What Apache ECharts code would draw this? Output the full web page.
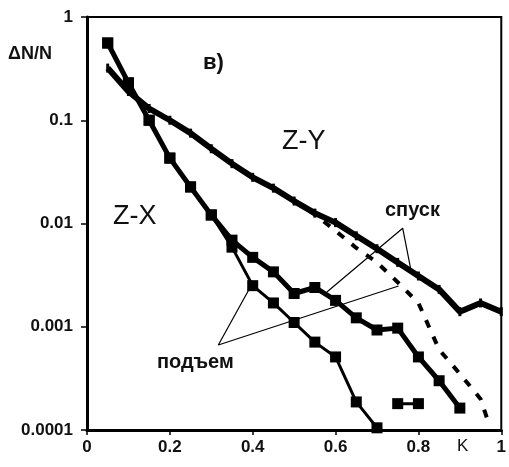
<!DOCTYPE html>
<html>
<head>
<meta charset="utf-8">
<script src="https://cdn.jsdelivr.net/npm/echarts@6/dist/echarts.min.js"></script>
<style>
html, body { margin: 0; padding: 0; background: #fff; }
#chart { width: 509px; height: 467px; }
</style>
</head>
<body>
<div id="chart"></div>
<script>
// K values (x) and dN/N values (y)
var zxDownK = [0.05, 0.1, 0.15, 0.2, 0.25, 0.3, 0.35, 0.4, 0.45, 0.5, 0.55, 0.6, 0.65, 0.7, 0.75, 0.8, 0.85, 0.9];
var zxDownV = [0.56, 0.23, 0.1, 0.043, 0.0226, 0.0121, 0.0069, 0.0047, 0.0034, 0.0021, 0.0024, 0.0018, 0.00122, 0.00093, 0.00097, 0.00051, 0.0003, 0.000163];

var zxUpK = [0.05, 0.1, 0.15, 0.2, 0.25, 0.3, 0.35, 0.4, 0.45, 0.5, 0.55, 0.6, 0.65, 0.7, 0.72, 0.75, 0.8];
var zxUpV = [0.56, 0.23, 0.1, 0.043, 0.0226, 0.0121, 0.0059, 0.0025, 0.0017, 0.0011, 0.00071, 0.00051, 0.000187, 0.000105, null, 0.00018, 0.00018];

var zyDownK = [0.05, 0.1, 0.15, 0.2, 0.25, 0.3, 0.35, 0.4, 0.45, 0.5, 0.55, 0.6, 0.65, 0.7, 0.75, 0.8, 0.85, 0.9, 0.95, 1.0];
var zyDownV = [0.32, 0.19, 0.13, 0.1, 0.075, 0.053, 0.038, 0.028, 0.022, 0.0165, 0.0126, 0.0102, 0.0076, 0.0057, 0.0042, 0.0031, 0.0023, 0.0014, 0.0017, 0.0014];

var zyUpK = [0.5, 0.55, 0.6, 0.65, 0.7, 0.75, 0.8, 0.85, 0.9, 0.95, 0.97];
var zyUpV = [0.0165, 0.0122, 0.0085, 0.0058, 0.0042, 0.0027, 0.0017, 0.0006, 0.00035, 0.0002, 0.000115];

// annotation pointer lines: end, vertex, end
var spuskK = [0.579, 0.762, 0.781];
var spuskV = [0.00217, 0.0090, 0.0037];
var podK = [0.393, 0.317, 0.752];
var podV = [0.00237, 0.000666, 0.00248];

var xTicks = ['0', '0.2', '0.4', '0.6', '0.8', '1'];
var yTicks = ['0.0001', '0.001', '0.01', '0.1', '1'];

function pairs(ks, vs) {
    return ks.map(function (k, i) { return [k, vs[i] == null ? '-' : vs[i]]; });
}

var font = 'Arial, "Liberation Sans", sans-serif';

var chart = echarts.init(document.getElementById('chart'));
chart.setOption({
    animation: false,
    backgroundColor: '#fff',
    grid: {
        left: 87, top: 17, width: 420, height: 413,
        show: true, borderColor: '#000', borderWidth: 2
    },
    xAxis: {
        type: 'value', min: 0, max: 1, interval: 0.2,
        axisLine: { lineStyle: { color: '#000', width: 3 } },
        axisTick: { show: true, length: 5, lineStyle: { color: '#000', width: 1.5 } },
        splitLine: { show: false },
        axisLabel: {
            color: '#111', fontFamily: font, fontWeight: 'bold', fontSize: 17, margin: 9,
            formatter: function (v) { return xTicks[Math.round(v / 0.2)]; }
        }
    },
    yAxis: {
        type: 'log', logBase: 10, min: 0.0001, max: 1,
        axisLine: { show: true, lineStyle: { color: '#000', width: 3 } },
        axisTick: { show: true, length: 6, lineStyle: { color: '#000', width: 1.5 } },
        minorTick: { show: false },
        splitLine: { show: false },
        axisLabel: {
            color: '#111', fontFamily: font, fontWeight: 'bold', fontSize: 17, margin: 14,
            formatter: function (v) { return yTicks[Math.round(Math.log10(v)) + 4]; }
        }
    },
    series: [
        {
            name: 'Z-Y спуск', type: 'line', data: pairs(zyDownK, zyDownV),
            symbol: 'rect', symbolSize: [3, 9], showSymbol: true,
            lineStyle: { color: '#000', width: 6 }, itemStyle: { color: '#000' }
        },
        {
            name: 'Z-Y подъем', type: 'line', data: pairs(zyUpK, zyUpV),
            showSymbol: false,
            lineStyle: { color: '#000', width: 4, type: [8, 10] }
        },
        {
            name: 'Z-X подъем', type: 'line', data: pairs(zxUpK, zxUpV),
            symbol: 'rect', symbolSize: 11, connectNulls: false,
            lineStyle: { color: '#000', width: 3 }, itemStyle: { color: '#000' }
        },
        {
            name: 'Z-X спуск', type: 'line', data: pairs(zxDownK, zxDownV),
            symbol: 'rect', symbolSize: 11,
            lineStyle: { color: '#000', width: 5 }, itemStyle: { color: '#000' }
        },
        {
            name: 'спуск стрелки', type: 'line', data: pairs(spuskK, spuskV),
            showSymbol: false, lineStyle: { color: '#000', width: 1.2 }
        },
        {
            name: 'подъем стрелки', type: 'line', data: pairs(podK, podV),
            showSymbol: false, lineStyle: { color: '#000', width: 1.2 }
        }
    ],
    graphic: [
        { type: 'text', left: 8, top: 45, style: { text: 'ΔN/N', font: 'bold 18px ' + font, fill: '#111' } },
        { type: 'text', left: 203, top: 52, style: { text: 'в)', font: 'bold 22px ' + font, fill: '#111' } },
        { type: 'text', left: 282, top: 128, style: { text: 'Z-Y', font: '27px ' + font, fill: '#111' } },
        { type: 'text', left: 113, top: 203, style: { text: 'Z-X', font: '27px ' + font, fill: '#111' } },
        { type: 'text', left: 385, top: 200, style: { text: 'спуск', font: 'bold 20px ' + font, fill: '#111' } },
        { type: 'text', left: 157, top: 352, style: { text: 'подъем', font: 'bold 20px ' + font, fill: '#111' } },
        { type: 'text', left: 457, top: 438, style: { text: 'K', font: '17px ' + font, fill: '#111' } }
    ]
});
</script>
</body>
</html>
